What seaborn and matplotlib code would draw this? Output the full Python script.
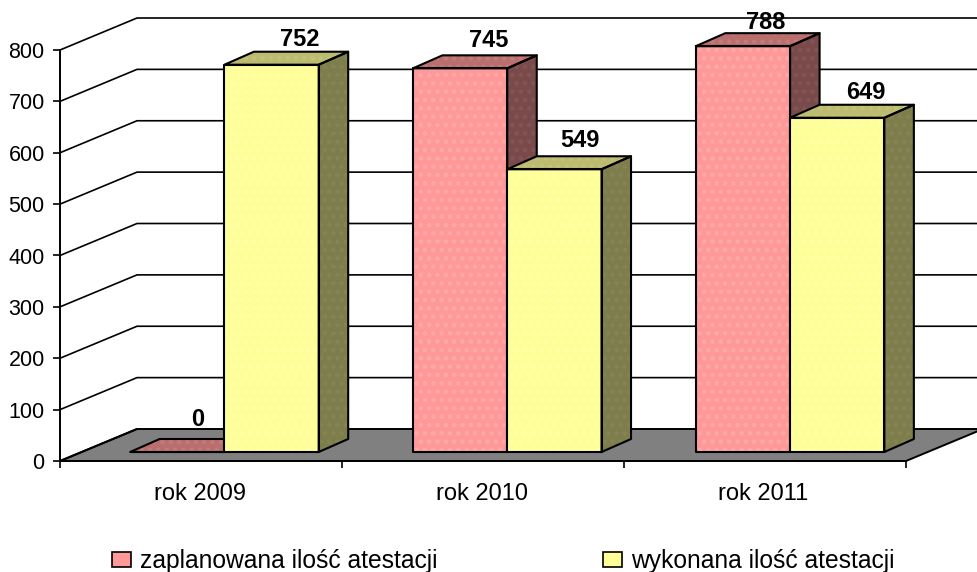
import matplotlib
matplotlib.use('Agg')
import pandas as pd
import matplotlib.pyplot as plt
import seaborn as sns
from matplotlib.patches import Patch, Polygon
from matplotlib.transforms import IdentityTransform

years = ['rok 2009', 'rok 2010', 'rok 2011']
series_names = ['zaplanowana ilość atestacji', 'wykonana ilość atestacji']
planned = [0, 745, 788]
done = [752, 549, 649]
y_ticks = [0, 100, 200, 300, 400, 500, 600, 700, 800]

front_colors = ['#FF9898', '#FFFF9A']
side_colors = ['#7A4A4A', '#7E7E4C']
top_colors = ['#BA6E6E', '#BCBC70']
dither_colors = ['#FFA8A8', '#FFFFA6']
side_dither = ['#825454', '#848454']
top_dither = ['#C27C7C', '#C2C27A']

# pixel nudges of the value labels, planned then done
label_dx = [[20, 29, 23], [28, 26, 29]]
label_dy = [[32, 28, 24], [25, 29, 25]]

W, H = 978, 572
DEPTH_WALL = (77, 32)
DEPTH_BAR = (29.5, 13)

sns.set_style('white')
plt.rcParams['font.family'] = ['Liberation Sans', 'DejaVu Sans']
plt.rcParams['hatch.linewidth'] = 2.0
plt.rcParams['text.color'] = 'black'
plt.rcParams['xtick.color'] = 'black'
plt.rcParams['ytick.color'] = 'black'

fig = plt.figure(figsize=(W / 100, H / 100), dpi=100)
ax = fig.add_axes([60 / W, (H - 461) / H, 846 / W, 411 / H])
ax_bar = fig.add_axes([83 / W, (H - 452) / H, 848.5 / W, 412 / H], zorder=2)
ax_bar.patch.set_alpha(0)

ax.set_xlim(-0.5, 2.5)
ax.set_ylim(0, 800)
ax.set_yticks(y_ticks)
ax.set_xticks([-0.5, 0.5, 1.5, 2.5])
ax.set_xticklabels([])
for s in ['top', 'right']:
    ax.spines[s].set_visible(False)
for s in ['left', 'bottom']:
    ax.spines[s].set_linewidth(1.4)
    ax.spines[s].set_color('black')
ax.tick_params(axis='both', length=5, width=1.2, color='black', labelsize=15.5,
               left=True, bottom=True, pad=6)

# category names sit between the ticks
for i, year in enumerate(years):
    ax.annotate(year, (i, 0), xycoords=ax.get_xaxis_transform(), xytext=(-1, -33.5 * 0.72),
                textcoords='offset points', ha='center', va='center', fontsize=17)


def px(x, v):
    return ax.transData.transform((x, v))


def wall(x, v):
    return px(x, v) + DEPTH_WALL


idt = IdentityTransform()
floor = Polygon([px(-0.5, 0), wall(-0.5, 0), wall(2.5, 0), px(2.5, 0)], closed=True,
                facecolor='#808080', edgecolor='black', linewidth=1.4,
                transform=idt, clip_on=False, zorder=1)
ax.add_patch(floor)
for v in y_ticks[1:]:
    ax.plot(*zip(px(-0.5, v), wall(-0.5, v), wall(2.5, v)), color='black', lw=1.2,
            transform=idt, clip_on=False, zorder=1)
ax.plot(*zip(px(-0.5, 0), wall(-0.5, 0)), color='black', lw=1.4, transform=idt,
        clip_on=False, zorder=2)

df = pd.DataFrame({
    'rok': years * 2,
    'seria': [series_names[0]] * 3 + [series_names[1]] * 3,
    'ile': planned + done,
})
sns.barplot(data=df, x='rok', y='ile', hue='seria', palette=front_colors, width=2 / 3,
            gap=0, saturation=1, legend=False, ax=ax_bar)
ax_bar.set_xlim(-0.5, 2.5)
ax_bar.set_ylim(0, 800)
ax_bar.axis('off')


def outline(pts, z):
    ax_bar.add_patch(Polygon(pts, closed=True, fill=False, edgecolor='black', linewidth=1.5,
                             transform=idt, clip_on=False, zorder=z, joinstyle='round'))


def face(pts, color, dither, z):
    ax_bar.add_patch(Polygon(pts, closed=True, facecolor=color, edgecolor=dither, linewidth=0,
                             hatch='..', transform=idt, clip_on=False, zorder=z))
    outline(pts, z + 0.1)


for k, cont in enumerate(ax_bar.containers):
    z = 3 + k
    for i, bar in enumerate(cont.patches):
        x0 = bar.get_x()
        x1 = x0 + bar.get_width()
        v = bar.get_height()
        bl = ax_bar.transData.transform((x0, 0))
        br = ax_bar.transData.transform((x1, 0))
        tl = ax_bar.transData.transform((x0, v))
        tr = ax_bar.transData.transform((x1, v))
        bar.set(edgecolor=dither_colors[k], linewidth=0, hatch='..', zorder=z)
        outline([bl, br, tr, tl], z + 0.05)
        if v > 0:
            face([br, br + DEPTH_BAR, tr + DEPTH_BAR, tr], side_colors[k], side_dither[k], z)
        face([tl, tr, tr + DEPTH_BAR, tl + DEPTH_BAR], top_colors[k], top_dither[k], z)
        ax_bar.annotate(str(int(v)), xy=tl + (tr - tl) / 2, xycoords=idt,
                        xytext=(label_dx[k][i] * 0.72, label_dy[k][i] * 0.72),
                        textcoords='offset points', ha='center', va='center',
                        fontsize=17, fontweight='bold', color='black', zorder=9,
                        annotation_clip=False)

handles = [Patch(facecolor=front_colors[0], edgecolor='black', linewidth=1.2),
           Patch(facecolor=front_colors[1], edgecolor='black', linewidth=1.2)]
fig.legend(handles, series_names, ncol=2, frameon=False, fontsize=17.7,
           loc='center left', bbox_to_anchor=(90 / W, 1 - 561 / H),
           handlelength=0.75, handleheight=0.6, handletextpad=0.38, columnspacing=6.75)

fig.savefig('out.png', dpi=100)
